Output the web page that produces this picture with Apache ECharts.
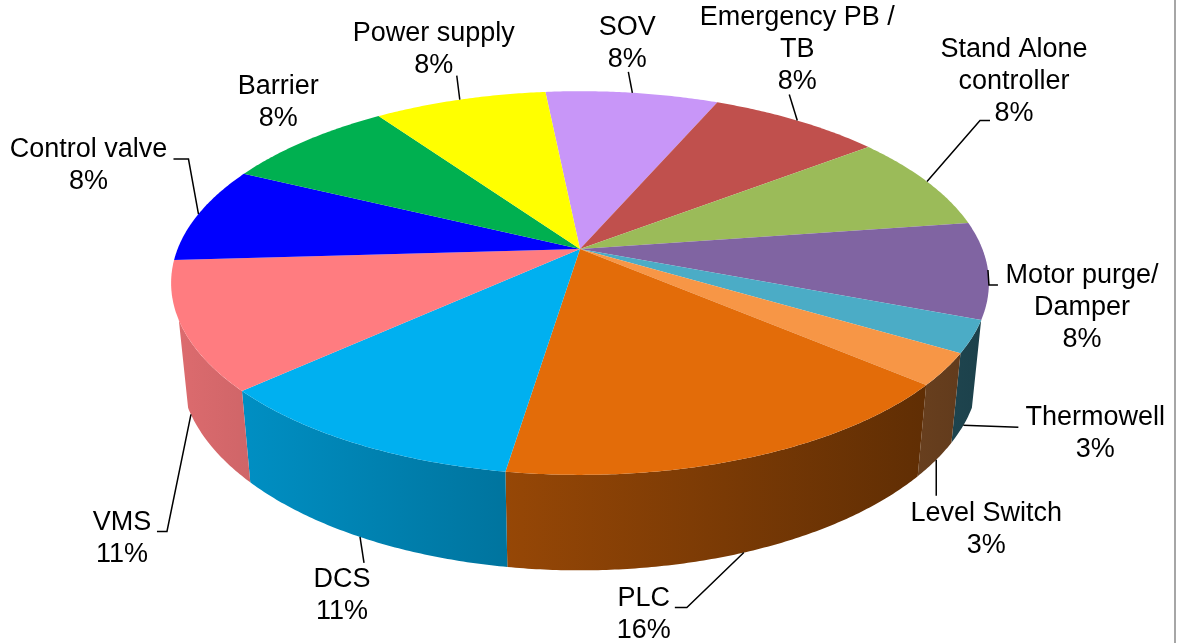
<!DOCTYPE html>
<html><head><meta charset="utf-8">
<script src="https://cdn.jsdelivr.net/npm/echarts/dist/echarts.min.js"></script>
<style>html,body{margin:0;padding:0;background:#fff}#c{width:1178px;height:643px}</style>
</head><body><div id="c"></div>
<script>
// ---- data ----
const categories = ['SOV', 'Emergency PB /\nTB', 'Stand Alone\ncontroller', 'Motor purge/\nDamper', 'Thermowell', 'Level Switch', 'PLC', 'DCS', 'VMS', 'Control valve', 'Barrier', 'Power supply'];
const counts = [3, 3, 3, 3, 1, 1, 6, 4, 4, 3, 3, 3];
const colors = ['#C896F8', '#C0504D', '#9BBB59', '#8064A2', '#4BACC6', '#F79646', '#E36C09', '#00B0F0', '#FF7C80', '#0000FF', '#00B050', '#FFFF00'];

// ---- label layout (offsets from slice anchor): [labelDx, labelDy, elbowDx, elbowDy, tickDx] ----
const labelLayout = [
  [-5, -49, -4, -21, 0],
  [0, -71, -8, -26, 0],
  [87, -100, 53, -61, 10],
  [94, 38, 1, 15, 9],
  [132, 8, 55, 2, 0],
  [50, 70, 0, 36, 0],
  [-100, 62, -57, 55, -12],
  [-18, 59, 4, 26, 0],
  [-69, 124, -24, 117, -10],
  [-110, -48, -10, -55, -15],
  [-27, -38, null, null, 0],
  [-26, -50, -3, -24, 0]
];

// ---- view (3D projection) ----
const V = {cx: 580, cy: 249, K: 2012, D: 5.0, tilt: 27.5, h: 0.24, start: -5.8, wallHalf: 69};
const rad = Math.PI / 180;
const sT = Math.sin(V.tilt * rad), cT = Math.cos(V.tilt * rad);
function proj(th, Y, r) {
  if (r === undefined) r = 1;
  const X = r * Math.sin(th * rad), Z = -r * Math.cos(th * rad);
  const depth = Y * sT + Z * cT;
  const up = Y * cT - Z * sT;
  const f = V.K / (V.D - depth);
  return [V.cx + X * f, V.cy - up * f];
}
const visLo = 180 - V.wallHalf, visHi = 180 + V.wallHalf;
const Zcut = Math.cos(V.wallHalf * rad);
const total = counts.reduce((a, b) => a + b, 0);
const cum = [];
counts.reduce((a, b, i) => { cum[i] = a; return a + b; }, 0);

function shade(hex, X) {
  const f = 0.62 - 0.26 * X;
  const n = parseInt(hex.slice(1), 16);
  const r = Math.round(((n >> 16) & 255) * f), g = Math.round(((n >> 8) & 255) * f), b = Math.round((n & 255) * f);
  return 'rgb(' + r + ',' + g + ',' + b + ')';
}
function arc(a0, a1, Y) {
  const pts = [];
  const n = Math.max(2, Math.ceil(Math.abs(a1 - a0) / 0.5));
  for (let k = 0; k <= n; k++) pts.push(proj(a0 + (a1 - a0) * k / n, Y));
  return pts;
}

function renderItem(params, api) {
  const i = params.dataIndex;
  const v = api.value(0);
  const a0 = V.start + cum[i] / total * 360;
  const a1 = a0 + v / total * 360;
  const children = [];
  // wall
  const lo = Math.max(a0, visLo), hi = Math.min(a1, visHi);
  if (hi > lo) {
    const pts = arc(lo, hi, 0).concat(arc(hi, lo, -V.h));
    children.push({
      type: 'polygon', z2: 1, shape: {points: pts},
      style: {fill: {type: 'linear', x: 0, y: 0, x2: 1, y2: 0, colorStops: [
        {offset: 0, color: shade(colors[i], Math.sin(hi * rad))},
        {offset: 1, color: shade(colors[i], Math.sin(lo * rad))}]}}
    });
  }
  // top face
  const top = [proj(0, 0, 0)].concat(arc(a0, a1, 0));
  children.push({type: 'polygon', z2: 2, shape: {points: top}, style: {fill: colors[i]}});
  // label
  const mid = (a0 + a1) / 2;
  const Zm = -Math.cos(mid * rad);
  const anc = Zm > Zcut ? proj(mid, -V.h) : proj(mid, 0);
  const L = labelLayout[i];
  const pct = Math.round(v / total * 100);
  if (L[2] !== null) {
    const e = [anc[0] + L[2], anc[1] + L[3]];
    const pts = [anc, e];
    if (L[4]) pts.push([e[0] + L[4], e[1]]);
    children.push({type: 'polyline', z2: 10, shape: {points: pts}, style: {stroke: '#000', lineWidth: 1.5, fill: null}});
  }
  children.push({
    type: 'text', z2: 11,
    style: {text: categories[i] + '\n' + pct + '%', x: anc[0] + L[0], y: anc[1] + L[1], align: 'center', verticalAlign: 'middle',
      font: '27px "Liberation Sans", Arial, sans-serif', lineHeight: 32, fill: '#000'}
  });
  return {type: 'group', children: children};
}

const chart = echarts.init(document.getElementById('c'), null, {renderer: 'canvas'});
chart.setOption({
  backgroundColor: '#fff',
  animation: false,
  graphic: [{type: 'line', shape: {x1: 1175, y1: 0, x2: 1175, y2: 643}, style: {stroke: '#A6A6A6', lineWidth: 2}}],
  series: [{
    type: 'custom', coordinateSystem: 'none', silent: true,
    renderItem: renderItem,
    data: counts.map((c, i) => ({name: categories[i], value: [c]}))
  }]
});
</script></body></html>
